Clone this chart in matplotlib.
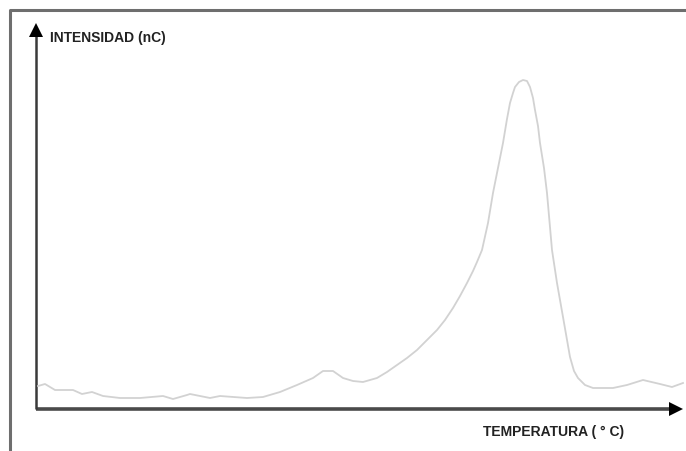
import matplotlib
matplotlib.use('Agg')
from matplotlib import pyplot as plt

plt.rcParams['font.family'] = ['Liberation Sans', 'DejaVu Sans']

# curva de termoluminiscencia (unidades arbitrarias, origen en los ejes)
temperatura = [2, 9, 19, 37, 46, 56, 67, 84, 104, 127, 137, 151, 154, 174, 184,
               211, 227, 244, 261, 277, 287, 297, 307, 317, 327, 341, 351, 361,
               371, 381, 391, 401, 409, 417, 424, 431, 437, 441, 446, 452, 457,
               462, 467, 471, 474, 477, 479, 483, 487, 491, 494, 497, 499, 502,
               504, 508, 511, 516, 521, 527, 534, 538, 542, 549, 557, 577, 591,
               607, 624, 636, 647]
intensidad = [23, 25, 19, 19, 15, 17, 13, 11, 11, 13, 10, 14, 15, 11, 13,
              11, 12, 17, 24, 31, 38, 38, 31, 28, 27, 31, 37, 44,
              51, 59, 69, 79, 89, 101, 113, 126, 138, 147, 159, 186, 216,
              241, 266, 290, 306, 316, 322, 327, 329, 328, 322, 311, 299, 283,
              266, 241, 216, 159, 126, 92, 52, 38, 31, 24, 21, 21, 24,
              29, 25, 22, 26]

xlabel = 'TEMPERATURA ( ° C)'
ylabel = 'INTENSIDAD (nC)'

fig = plt.figure(figsize=(6.86, 4.51), dpi=100)
ax = fig.add_axes([0, 0, 1, 1])
ax.set_xlim(-36, 650)
ax.set_ylim(-42, 409)
ax.axis('off')

# marco exterior
ax.plot([-26, -26, 650], [-42, 399, 399], color='#6e6e6e', lw=2.2,
        solid_capstyle='butt')

# ejes con flecha
ax.plot([0, 636], [0, 0], color='#4a4a4a', lw=2.6, solid_capstyle='butt')
ax.plot([0, 0], [0, 375], color='#3a3a3a', lw=1.8, solid_capstyle='butt')
ax.plot([640], [0], marker='>', color='black', markersize=10, mew=0)
ax.plot([0], [379], marker='^', color='black', markersize=10, mew=0)

ax.plot(temperatura, intensidad, color='#d2d2d2', lw=1.3)

ax.text(14, 371, ylabel, fontsize=10, fontweight='bold', color='#222222',
        ha='left', va='center')
ax.text(447, -23, xlabel, fontsize=10, fontweight='bold', color='#222222',
        ha='left', va='center')

plt.savefig('out.png', dpi=100)
